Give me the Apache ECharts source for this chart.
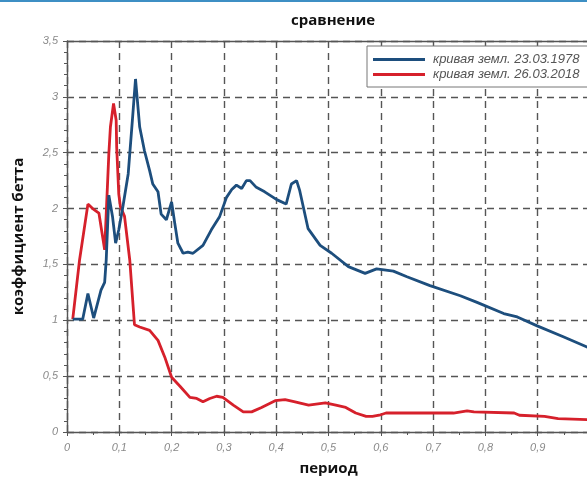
<!DOCTYPE html>
<html>
<head>
<meta charset="utf-8">
<script src="https://cdn.jsdelivr.net/npm/echarts@6/dist/echarts.min.js"></script>
<style>
  html, body { margin: 0; padding: 0; background: #fff; }
  #main { width: 587px; height: 479px; }
</style>
</head>
<body>
<div id="main"></div>
<script>
// кривая 1978 (синяя)
var periodBlue = [0.011,0.030,0.040,0.051,0.065,0.072,0.075,0.080,0.087,0.093,0.099,0.107,0.117,0.125,0.131,0.139,0.148,0.158,0.164,0.174,0.180,0.190,0.200,0.206,0.212,0.222,0.231,0.241,0.260,0.276,0.292,0.305,0.315,0.324,0.334,0.343,0.350,0.362,0.378,0.401,0.419,0.429,0.439,0.445,0.461,0.484,0.506,0.538,0.570,0.592,0.624,0.650,0.694,0.752,0.784,0.835,0.861,0.899,0.950,1.0];
var betaBlue = [1.01,1.01,1.24,1.02,1.27,1.34,1.54,2.12,1.93,1.69,1.81,2.02,2.31,2.79,3.16,2.73,2.52,2.34,2.22,2.15,1.95,1.90,2.06,1.87,1.69,1.60,1.61,1.60,1.67,1.81,1.93,2.10,2.17,2.21,2.18,2.25,2.25,2.19,2.15,2.08,2.04,2.22,2.25,2.16,1.82,1.67,1.60,1.48,1.42,1.46,1.44,1.39,1.31,1.22,1.16,1.06,1.03,0.95,0.85,0.75];

// кривая 2018 (красная)
var periodRed = [0.011,0.024,0.040,0.049,0.061,0.072,0.080,0.083,0.089,0.094,0.095,0.099,0.102,0.110,0.120,0.129,0.139,0.158,0.174,0.187,0.200,0.216,0.235,0.248,0.260,0.273,0.286,0.298,0.318,0.337,0.353,0.372,0.398,0.417,0.436,0.462,0.494,0.514,0.533,0.552,0.572,0.584,0.597,0.610,0.662,0.739,0.765,0.778,0.855,0.865,0.913,0.939,1.0];
var betaRed = [1.01,1.54,2.04,2.00,1.96,1.63,2.49,2.73,2.94,2.79,2.55,2.13,2.02,1.93,1.54,0.96,0.94,0.91,0.82,0.67,0.49,0.41,0.31,0.30,0.27,0.30,0.32,0.31,0.24,0.18,0.18,0.22,0.28,0.29,0.27,0.24,0.26,0.24,0.22,0.17,0.14,0.14,0.15,0.17,0.17,0.17,0.19,0.18,0.17,0.15,0.14,0.12,0.11];

var seriesNames = ['кривая земл. 23.03.1978', 'кривая земл. 26.03.2018'];

function pairs(xs, ys) {
  return xs.map(function (x, i) { return [x, ys[i]]; });
}
function comma(v) {
  return String(v).replace('.', ',');
}

var chart = echarts.init(document.getElementById('main'));

var axisLabel = { color: '#8a8a8a', fontStyle: 'italic', fontSize: 11, fontFamily: 'Liberation Sans' };
var dashed = { show: true, lineStyle: { color: '#555', type: [7, 5], width: 1.4 } };

chart.setOption({
  backgroundColor: '#fff',
  animation: false,
  graphic: [{
    type: 'rect', left: 0, top: 0, shape: { width: 587, height: 2 },
    style: { fill: '#3d8fc4' }
  }],
  title: {
    text: 'сравнение', left: 328, top: 8, textAlign: 'center',
    textStyle: { fontFamily: 'Open Sans', fontWeight: 'bold', fontSize: 15, color: '#111' }
  },
  legend: {
    orient: 'vertical', left: 367, top: 46,
    padding: [7, 10, 6, 6], itemGap: 2,
    itemWidth: 52, itemHeight: 3,
    backgroundColor: '#fff', borderColor: '#777', borderWidth: 1,
    textStyle: { fontSize: 13, fontStyle: 'italic', color: '#555', fontFamily: 'Liberation Sans', padding: [0, 0, 0, 3] },
    data: [{ name: seriesNames[0], icon: 'rect' }, { name: seriesNames[1], icon: 'rect' }]
  },
  grid: { left: 67, right: -3, top: 41, bottom: 47, outerBoundsMode: 'none' },
  xAxis: [{
    type: 'value', min: 0, max: 1, interval: 0.1,
    name: 'период', nameLocation: 'middle', nameGap: 29,
    nameTextStyle: { fontFamily: 'Open Sans', fontWeight: 'bold', fontSize: 15, color: '#111', verticalAlign: 'top' },
    axisLine: { show: true, lineStyle: { color: '#555', width: 1.4 } },
    axisTick: { show: true, length: 4, lineStyle: { color: '#555' } },
    minorTick: { show: true, splitNumber: 2, length: 3, lineStyle: { color: '#555' } },
    axisLabel: Object.assign({ margin: 10, formatter: function (v) { return v >= 1 ? '' : comma(+v.toFixed(1)); } }, axisLabel),
    splitLine: dashed
  }, {
    type: 'value', position: 'top', min: 0, max: 1, interval: 0.1,
    axisLine: { show: true, lineStyle: { color: '#555', width: 1.4 } },
    axisTick: { show: true, inside: true, length: 4, lineStyle: { color: '#555' } },
    axisLabel: { show: false }, splitLine: { show: false }
  }],
  yAxis: {
    type: 'value', min: 0, max: 3.5, interval: 0.5,
    name: 'коэффициент бетта', nameLocation: 'middle', nameGap: 41,
    nameTextStyle: { fontFamily: 'Open Sans', fontWeight: 'bold', fontSize: 15, color: '#111' },
    axisLine: { show: true, lineStyle: { color: '#555', width: 1.4 } },
    axisTick: { show: true, length: 4, lineStyle: { color: '#555' } },
    minorTick: { show: true, splitNumber: 5, length: 3, lineStyle: { color: '#555' } },
    axisLabel: Object.assign({ margin: 9, formatter: function (v) { return comma(v); } }, axisLabel),
    splitLine: dashed
  },
  series: [{
    name: seriesNames[0], type: 'line', z: 3,
    data: pairs(periodBlue, betaBlue),
    showSymbol: false, symbol: 'none',
    itemStyle: { color: '#1d4e7d' },
    lineStyle: { color: '#1d4e7d', width: 2.8 }
  }, {
    name: seriesNames[1], type: 'line', z: 2,
    data: pairs(periodRed, betaRed),
    showSymbol: false, symbol: 'none',
    itemStyle: { color: '#d6202b' },
    lineStyle: { color: '#d6202b', width: 2.8 }
  }]
});
</script>
</body>
</html>
